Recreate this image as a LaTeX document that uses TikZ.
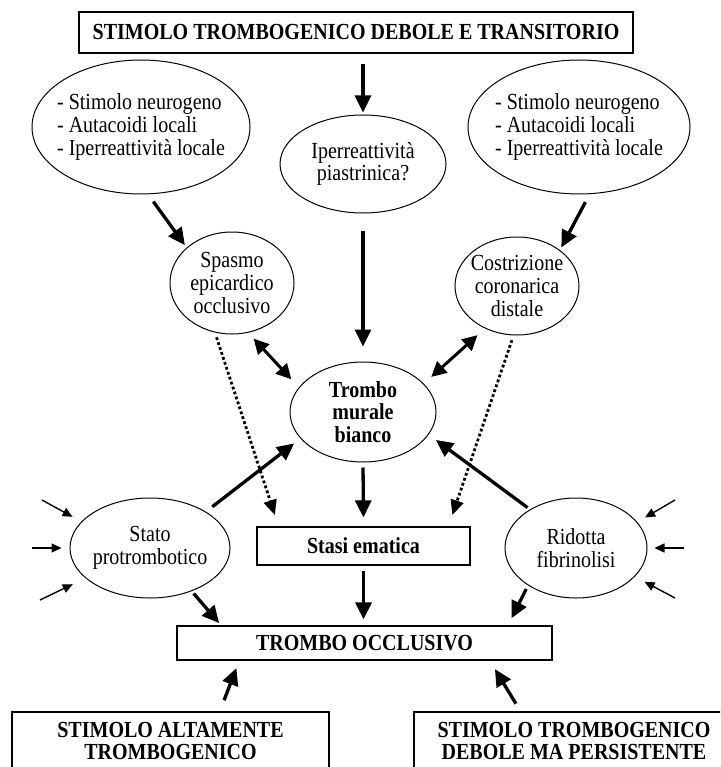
\documentclass[tikz,border=0pt]{standalone}
\usepackage{fontspec}
\setmainfont[FakeStretch=0.87]{Liberation Serif}
\usetikzlibrary{arrows.meta,shapes.geometric}
\tikzset{
  fcbox/.style={draw=black,line width=1.2pt,rectangle,inner sep=0pt,align=center,
    font=\fontsize{23}{22.5}\selectfont\bfseries},
  fcoval/.style={draw=black,line width=1pt,ellipse,inner xsep=-15pt,inner ysep=-2pt,align=center,
    font=\fontsize{23}{22.8}\selectfont},
  fcarrow/.style={-{Triangle[length=17pt,width=16pt]},line width=3.3pt},
  fcdouble/.style={{Triangle[length=15pt,width=15pt]}-{Triangle[length=15pt,width=15pt]},line width=3pt},
  fcdotted/.style={-{Triangle[length=15pt,width=13pt]},line width=2.8pt,dash pattern=on 2.8pt off 2.4pt},
  fcsmall/.style={-{Triangle[length=10pt,width=9pt]},line width=1.4pt}
}
\begin{document}
\begin{tikzpicture}[x=1pt,y=-1pt]
  \clip (0,0) rectangle (720,767);
  \node[fcbox,minimum width=554pt,minimum height=41pt] (stimdeb) at (356,32.5) {STIMOLO TROMBOGENICO DEBOLE E TRANSITORIO};
  \node[fcoval,align=left,minimum width=218pt,minimum height=134pt] (neurosx) at (141,127)
    {- Stimolo neurogeno\\- Autacoidi locali\\- Iperreattività locale};
  \node[fcoval,minimum width=166pt,minimum height=98pt] (piastr) at (363,164) {Iperreattività\\piastrinica?};
  \node[fcoval,align=left,minimum width=222pt,minimum height=134pt] (neurodx) at (579,127)
    {- Stimolo neurogeno\\- Autacoidi locali\\- Iperreattività locale};
  \node[fcoval,minimum width=124pt,minimum height=102pt] (spasmo) at (232,283) {Spasmo\\epicardico\\occlusivo};
  \node[fcoval,minimum width=124pt,minimum height=98pt] (costr) at (517,286) {Costrizione\\coronarica\\distale};
  \node[fcoval,font=\fontsize{23}{22.8}\selectfont\bfseries,minimum width=146pt,minimum height=100pt] (trombo) at (363,412)
    {Trombo\\murale\\bianco};
  \node[fcbox,minimum width=213pt,minimum height=38pt] (stasi) at (363.5,546) {Stasi ematica};
  \node[fcoval,minimum width=160pt,minimum height=100pt] (stato) at (150,548) {Stato\\protrombotico};
  \node[fcoval,minimum width=142pt,minimum height=100pt] (ridotta) at (576,548) {Ridotta\\fibrinolisi};
  \node[fcbox,minimum width=375pt,minimum height=34pt] (occl) at (364.5,643) {TROMBO OCCLUSIVO};
  \node[fcbox,minimum width=317pt,minimum height=58pt] (altam) at (170.5,741) {STIMOLO ALTAMENTE\\TROMBOGENICO};
  \node[fcbox,minimum width=320pt,minimum height=58pt] (persist) at (574,741) {STIMOLO TROMBOGENICO\\DEBOLE MA PERSISTENTE};

  \draw[fcarrow,shorten <=10pt,shorten >=2pt] (stimdeb.south -| piastr.north) -- (piastr.north);
  \draw[fcarrow,shorten <=9pt,shorten >=3pt] (neurosx.-84) -- (spasmo.142);
  \draw[fcarrow,shorten <=9pt,shorten >=3pt] (neurodx.-81) -- (costr.40);
  \draw[fcarrow,shorten <=17pt,shorten >=15pt] (piastr.south) -- (trombo.north);
  \draw[fcdouble,shorten <=8pt,shorten >=11pt] (spasmo.-72) -- (trombo.159);
  \draw[fcdouble,shorten <=10pt,shorten >=10pt] (costr.-127) -- (trombo.25);
  \draw[fcdotted,shorten <=5pt,shorten >=12pt] (spasmo.-109) -- (stasi.167);
  \draw[fcdotted,shorten <=5pt,shorten >=12pt] (costr.-94) -- (stasi.13);
  \draw[fcarrow,shorten <=8pt,shorten >=8pt] (stato.33) -- (trombo.-157);
  \draw[fcarrow,shorten <=3pt,shorten >=9pt] (ridotta.140) -- (trombo.-19);
  \draw[fcarrow,shorten <=5pt,shorten >=9pt] (trombo.south) -- (stasi.north);
  \draw[fcarrow,shorten <=5pt,shorten >=6pt] (stasi.south) -- (occl.north -| stasi.south);
  \draw[fcarrow,shorten <=3pt,shorten >=3pt] (stato.-46) -- (occl.173);
  \draw[fcarrow,shorten <=4pt,shorten >=8pt] (ridotta.-142) -- (occl.7);
  \draw[fcarrow,shorten <=12pt,shorten >=8pt] (altam.31) -- (occl.-172);
  \draw[fcarrow,shorten <=9pt,shorten >=10pt] (persist.151) -- (occl.-8);

  \coordinate (insx1) at (42,500);
  \coordinate (insx2) at (32,548);
  \coordinate (insx3) at (40,600);
  \coordinate (indx1) at (675,500);
  \coordinate (indx2) at (684,548);
  \coordinate (indx3) at (675,598);
  \draw[fcsmall,shorten >=10pt] (insx1) -- (stato.159);
  \draw[fcsmall,shorten >=8pt] (insx2) -- (stato.west);
  \draw[fcsmall,shorten >=14pt] (insx3) -- (stato.-155);
  \draw[fcsmall,shorten >=9pt] (indx1) -- (ridotta.23.5);
  \draw[fcsmall,shorten >=7pt] (indx2) -- (ridotta.east);
  \draw[fcsmall,shorten >=11pt] (indx3) -- (ridotta.-26);
\end{tikzpicture}
\end{document}
